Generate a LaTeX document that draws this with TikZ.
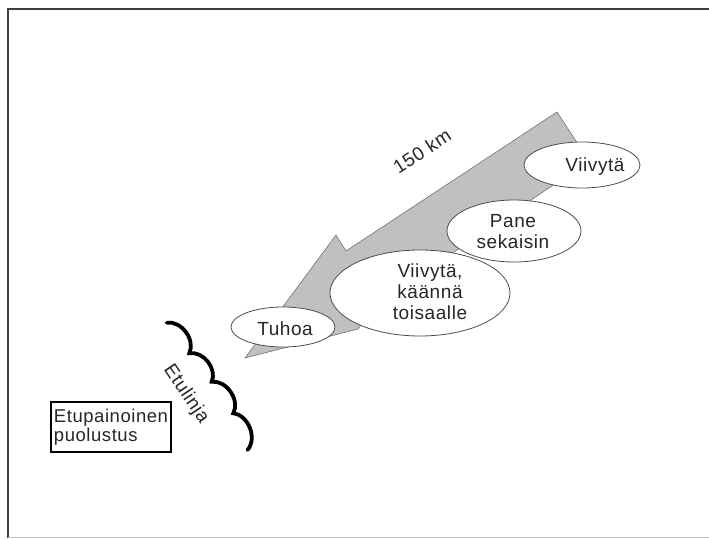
\documentclass[tikz,border=0pt]{standalone}
\usepackage{fontspec}
\setmainfont{Liberation Sans}[LetterSpace=3]
\usetikzlibrary{shapes.geometric}
\definecolor{arrowgray}{RGB}{192,192,192}
\begin{document}
\begin{tikzpicture}[x=1pt,y=-1pt,
  oval/.style={ellipse,draw=black!70,line width=0.8pt,fill=white,inner sep=0pt},
  lbl/.style={font=\fontsize{19}{21}\selectfont,align=center,inner sep=0pt,text=black!85},
  frameline/.style={black!75,line width=1.5pt},
  wave/.style={line width=3.8pt,line cap=round,bend left=62}]
\useasboundingbox (0,0) rectangle (709,538);
% frame
\draw[frameline] (8,538) -- (8,9) -- (709,9);
\draw[black!25,line width=1pt] (8,537) -- (709,537);
% arrow
\coordinate (tip) at (245,358);
\coordinate (b1) at (336,235);
\coordinate (n1) at (346,251);
\coordinate (ta) at (557,112);
\coordinate (tc) at (589,161);
\coordinate (n2) at (375,305);
\coordinate (b2) at (358,329);
\draw[fill=arrowgray,draw=black!55,line width=0.6pt,line join=miter]
  (tip) -- (b1) -- (n1) -- (ta) -- (tc) -- (n2) -- (b2) -- cycle;
% ellipses
\node[oval,minimum width=180pt,minimum height=86pt] (big) at (420,293) {};
\node[oval,minimum width=134pt,minimum height=62pt] (pane) at (514,231) {};
\node[oval,minimum width=116pt,minimum height=46pt] (viiv) at (582,165) {};
\node[oval,minimum width=104pt,minimum height=40pt] (tuhoa) at (283,327) {};
% texts
\node[lbl] (tviiv) at (595,167) {Viivytä};
\node[lbl] (tpane) at (513,232) {Pane\\sekaisin};
\node[lbl] (tbig) at (430,292) {Viivytä,\\käännä\\toisaalle};
\node[lbl] (ttuhoa) at (285,329) {Tuhoa};
\node[lbl,rotate=33] (km) at (422,151) {150 km};
% front line
\coordinate (w0) at (166.7,322.7);
\coordinate (w1) at (189.3,353.3);
\coordinate (w2) at (211.7,381.7);
\coordinate (w3) at (233.3,413.3);
\coordinate (w4) at (247.5,450);
\draw[wave] (w0) to (w1) to (w2) to (w3) to (w4);
\node[lbl,rotate=-56] (etu) at (186,394) {Etulinja};
% defence box
\node[draw=black,line width=1.3pt,minimum width=120pt,minimum height=50pt,
  inner sep=1pt,align=left,font=\fontsize{18.5}{19.5}\selectfont,text=black!85]
  (box) at (111,427) {Etupainoinen\\puolustus};
\end{tikzpicture}
\end{document}
